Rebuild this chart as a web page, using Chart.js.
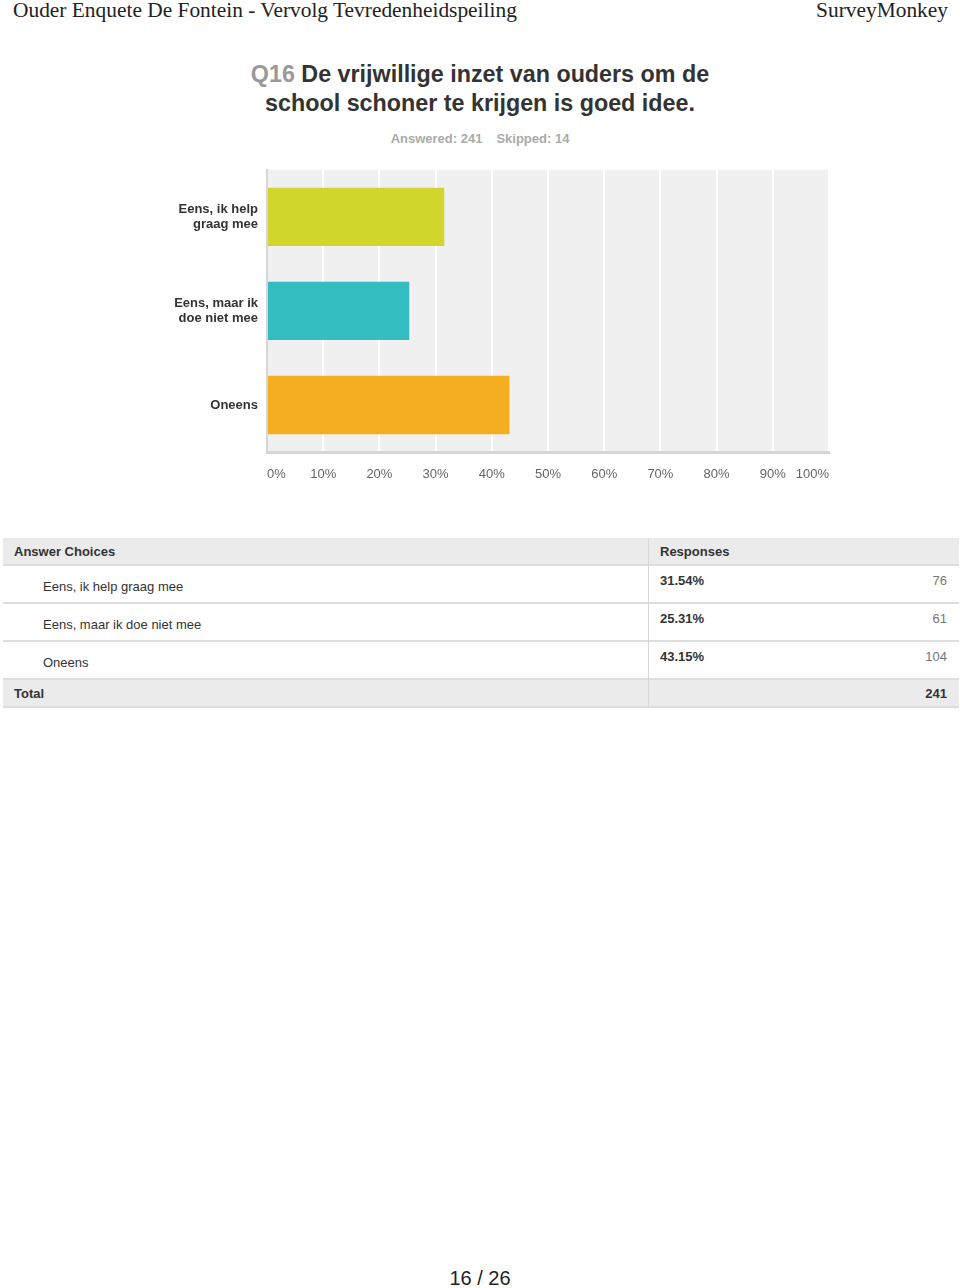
<!DOCTYPE html>
<html>
<head>
<meta charset="utf-8">
<script src="https://cdn.jsdelivr.net/npm/chart.js@4"></script>
<style>
  html, body { margin: 0; padding: 0; background: #fff; }
  body { width: 960px; height: 1288px; position: relative; font-family: "Liberation Sans", Arial, sans-serif; overflow: hidden; }
  .hdr { position: absolute; top: -2px; font-family: "Liberation Serif", "Times New Roman", serif; font-size: 21.4px; color: #222; }
  .title { position: absolute; top: 60px; left: 0; width: 960px; text-align: center; font-size: 23.3px; font-weight: bold; color: #333; line-height: 29px; }
  .title .q { color: #999; }
  .stats { position: absolute; top: 131px; left: 0; width: 960px; text-align: center; font-size: 13px; font-weight: bold; color: #aaa; }
  .stats span { margin: 0 7px; }
  #wrap { position: absolute; left: 0; top: 153px; width: 960px; height: 339px; }
  #tbl { position: absolute; left: 3px; top: 538px; width: 956px; font-size: 13px; color: #333; }
  .tr { position: relative; border-bottom: 2px solid #ddd; box-sizing: border-box; }
  .tr.head, .tr.total { background: #ebebeb; font-weight: bold; height: 28px; }
  .tr.row { height: 38px; }
  .tr div { position: absolute; white-space: nowrap; }
  .div { left: 645px; top: 0; bottom: -2px; width: 1px; background: #d8d8d8; }
  .c-pad { left: 11px; top: 6px; }
  .c-choice { left: 40px; top: 13px; }
  .c-pct { left: 657px; top: 7px; font-weight: bold; }
  .c-cnt { right: 12px; top: 7px; color: #777; }
  .page { position: absolute; top: 1267px; left: 0; width: 960px; text-align: center; font-size: 20px; color: #222; }
</style>
</head>
<body>
<div class="hdr" style="left:13px">Ouder Enquete De Fontein - Vervolg Tevredenheidspeiling</div>
<div class="hdr" style="right:12px">SurveyMonkey</div>
<div class="title"><span class="q">Q16</span> De vrijwillige inzet van ouders om de<br>school schoner te krijgen is goed idee.</div>
<div class="stats"><span>Answered: 241</span><span>Skipped: 14</span></div>
<div id="wrap"><canvas id="chart"></canvas></div>
<div id="tbl"></div>
<div class="page">16 / 26</div>
<script>
const categories = [['Eens, ik help', 'graag mee'], ['Eens, maar ik', 'doe niet mee'], ['Oneens']]
const choiceNames = ['Eens, ik help graag mee', 'Eens, maar ik doe niet mee', 'Oneens']
const percentages = [31.54, 25.31, 43.15]
const counts = [76, 61, 104]
const total = 241
const barColors = ['#d0d62b', '#34bdc0', '#f6ae21']
const xTicks = [0, 10, 20, 30, 40, 50, 60, 70, 80, 90, 100]

// answer table
let rows = '<div class="tr head"><div class="div"></div><div class="c-pad">Answer Choices</div><div class="c-pct" style="top:6px">Responses</div></div>'
choiceNames.forEach((name, i) => {
  rows += `<div class="tr row"><div class="div"></div><div class="c-choice">${name}</div><div class="c-pct">${percentages[i].toFixed(2)}%</div><div class="c-cnt">${counts[i]}</div></div>`
})
rows += `<div class="tr total"><div class="div"></div><div class="c-pad">Total</div><div class="c-cnt" style="top:6px;color:#333">${total}</div></div>`
document.getElementById('tbl').innerHTML = rows

const plotBg = {
  id: 'plotBg',
  beforeDraw(chart) {
    const { ctx, chartArea: a } = chart
    ctx.save()
    ctx.fillStyle = '#f0f0f0'
    ctx.fillRect(a.left, a.top, a.right - a.left, a.bottom - a.top)
    ctx.restore()
  }
}

new Chart(document.getElementById('chart'), {
  type: 'bar',
  data: {
    labels: categories,
    datasets: [{
      data: percentages,
      backgroundColor: barColors,
      borderWidth: 0,
      barPercentage: 0.62,
      categoryPercentage: 1,
    }]
  },
  options: {
    indexAxis: 'y',
    responsive: true,
    maintainAspectRatio: false,
    animation: false,
    layout: { padding: { left: 0, right: 131, top: 3, bottom: 0 } },
    plugins: { legend: { display: false }, tooltip: { enabled: false } },
    scales: {
      x: {
        min: 0,
        max: 100,
        afterBuildTicks: s => { s.ticks = xTicks.map(v => ({ value: v })) },
        afterFit: s => { s.height = 40 },
        grid: { color: '#ffffff', lineWidth: 2, drawTicks: false },
        border: { color: '#d6d6d6', width: 3 },
        ticks: {
          align: 'inner',
          padding: 15,
          color: '#666',
          font: { family: 'Liberation Sans', size: 13 },
          callback: v => v + '%'
        }
      },
      y: {
        afterFit: s => { s.width = 267 },
        grid: { display: false, drawTicks: false },
        border: { color: '#d6d6d6', width: 2 },
        ticks: {
          padding: 9,
          color: '#333',
          font: { family: 'Liberation Sans', size: 13, weight: 'bold' },
          lineHeight: 1.2
        }
      }
    }
  },
  plugins: [plotBg]
})
</script>
</body>
</html>
